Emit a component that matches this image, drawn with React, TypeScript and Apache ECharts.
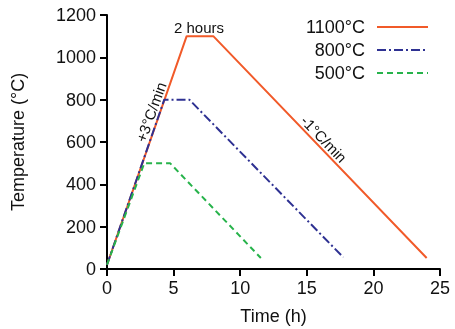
import React, { useEffect, useRef } from "react";
import * as echarts from "echarts";

const seriesNames = ["1100°C", "800°C", "500°C"];
const s1100: [number, number][] = [[0, 20], [5.98, 1100], [7.98, 1100], [24.0, 52]];
const s800: [number, number][] = [[0, 20], [4.3, 800], [6.18, 800], [17.74, 55]];
const s500: [number, number][] = [[0, 20], [2.8, 500], [4.73, 500], [11.55, 52]];
const xTicks = [0, 5, 10, 15, 20, 25];
const yTicks = [0, 200, 400, 600, 800, 1000, 1200];

const FONT = "Liberation Sans, Arial, sans-serif";

export default function App() {
  const ref = useRef<HTMLDivElement>(null);
  useEffect(() => {
    if (!ref.current) return;
    const chart = echarts.init(ref.current, null, { renderer: "svg" });
    const axisStyle = {
      axisLine: { show: true, lineStyle: { color: "#000", width: 2 } },
      axisTick: { show: true, length: 7, lineStyle: { color: "#000", width: 2 } },
      splitLine: { show: false },
    };
    chart.setOption({
      animation: false,
      textStyle: { fontFamily: FONT },
      grid: { left: 107, right: 15, top: 15, bottom: 60, containLabel: false, outerBoundsMode: "none" },
      xAxis: {
        type: "value",
        min: xTicks[0],
        max: xTicks[xTicks.length - 1],
        interval: 5,
        name: "Time (h)",
        nameLocation: "middle",
        nameGap: 38,
        nameTextStyle: { fontSize: 18, color: "#111", fontFamily: FONT },
        axisLabel: { fontSize: 18, color: "#111", margin: 10, fontFamily: FONT, formatter: (v: number) => String(v) },
        ...axisStyle,
      },
      yAxis: {
        type: "value",
        min: yTicks[0],
        max: yTicks[yTicks.length - 1],
        interval: 200,
        name: "Temperature (°C)",
        nameLocation: "middle",
        nameGap: 80,
        nameTextStyle: { fontSize: 18, color: "#111", fontFamily: FONT },
        axisLabel: { fontSize: 18, color: "#111", margin: 11, fontFamily: FONT, formatter: (v: number) => String(v) },
        ...axisStyle,
      },
      legend: {
        orient: "vertical",
        right: 21,
        top: 13,
        align: "right",
        itemWidth: 51,
        itemHeight: 14,
        itemGap: 5,
        itemStyle: { opacity: 0 },
        textStyle: { fontSize: 18, color: "#111", fontFamily: FONT, padding: [0, 7, 0, 0] },
        data: seriesNames,
      },
      series: [
        {
          name: seriesNames[0],
          type: "line",
          data: s1100,
          symbol: "none",
          lineStyle: { color: "#f15a29", width: 2 },
          itemStyle: { color: "#f15a29" },
          z: 3,
        },
        {
          name: seriesNames[1],
          type: "line",
          data: s800,
          symbol: "none",
          lineStyle: { color: "#2e3192", width: 2, type: [9, 3, 2, 3] },
          itemStyle: { color: "#2e3192" },
          z: 4,
        },
        {
          name: seriesNames[2],
          type: "line",
          data: s500,
          symbol: "none",
          lineStyle: { color: "#27b34b", width: 2, type: [6, 4] },
          itemStyle: { color: "#27b34b" },
          z: 5,
        },
      ],
      graphic: [
        {
          type: "text",
          x: 199,
          y: 27,
          style: { text: "2 hours", fontSize: 15, fill: "#111", fontFamily: FONT, align: "center", verticalAlign: "middle" },
        },
        {
          type: "text",
          x: 151,
          y: 112,
          rotation: (70 * Math.PI) / 180,
          style: { text: "+3°C/min", fontSize: 15, fill: "#111", fontFamily: FONT, align: "center", verticalAlign: "middle" },
        },
        {
          type: "text",
          x: 324,
          y: 139,
          rotation: (-46 * Math.PI) / 180,
          style: { text: "-1°C/min", fontSize: 15, fill: "#111", fontFamily: FONT, align: "center", verticalAlign: "middle" },
        },
      ],
    });
    return () => chart.dispose();
  }, []);
  return <div ref={ref} style={{ width: 455, height: 329, position: "fixed", left: 0, top: 0 }} />;
}
